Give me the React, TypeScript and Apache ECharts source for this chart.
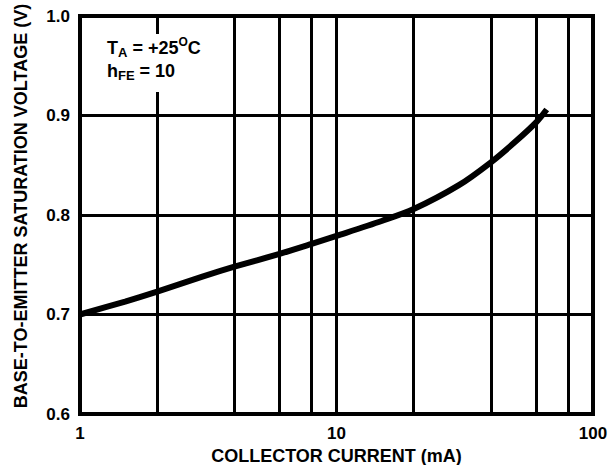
import React, { useEffect, useRef } from "react";
import * as echarts from "echarts";

const currents = [1, 1.5, 2, 3, 4, 6, 8, 10, 15, 20, 30, 40, 50, 60, 66];
const vbeSat = [0.7, 0.713, 0.723, 0.738, 0.748, 0.761, 0.771, 0.779, 0.794, 0.806, 0.83, 0.853, 0.874, 0.893, 0.906];
const minorGridX = [2, 4, 6, 8, 20, 40, 60, 80];
const xTitle = "COLLECTOR CURRENT (mA)";
const yTitle = "BASE-TO-EMITTER SATURATION VOLTAGE (V)";

const FONT = "'Liberation Sans', Arial, sans-serif";

export default function App() {
  const ref = useRef<HTMLDivElement>(null);
  useEffect(() => {
    if (!ref.current) return;
    const chart = echarts.init(ref.current, null, { renderer: "svg" });
    const data = currents.map((c, i) => [c, vbeSat[i]]);
    chart.setOption({
      animation: false,
      backgroundColor: "#ffffff",
      grid: {
        left: 80,
        right: 20,
        top: 16,
        bottom: 51,
        show: true,
        borderColor: "#000",
        borderWidth: 4,
        backgroundColor: "transparent",
        containLabel: false,
        outerBoundsMode: "none",
      },
      xAxis: {
        type: "log",
        logBase: 10,
        min: 1,
        max: 100,
        name: xTitle,
        nameLocation: "middle",
        nameGap: 28,
        nameTextStyle: { fontFamily: FONT, fontWeight: "bold", fontSize: 18, color: "#000" },
        axisLine: { show: false },
        axisTick: { show: false },
        axisLabel: { fontFamily: FONT, fontWeight: "bold", fontSize: 17, color: "#000", margin: 11 },
        splitLine: { show: true, lineStyle: { color: "#000", width: 3 } },
      },
      yAxis: {
        type: "value",
        min: 0.6,
        max: 1.0,
        interval: 0.1,
        axisLine: { show: false },
        axisTick: { show: false },
        axisLabel: {
          fontFamily: FONT,
          fontWeight: "bold",
          fontSize: 17,
          color: "#000",
          margin: 10,
          formatter: (v: number) => v.toFixed(1),
        },
        splitLine: { show: true, lineStyle: { color: "#000", width: 3 } },
      },
      series: [
        {
          type: "line",
          data,
          smooth: 0.3,
          symbol: "none",
          lineStyle: { color: "#000", width: 6, cap: "butt" },
          z: 5,
          markLine: {
            silent: true,
            symbol: "none",
            label: { show: false },
            lineStyle: { color: "#000", width: 3, type: "solid" },
            data: minorGridX.map((x) => ({ xAxis: x })),
            z: 1,
          },
        },
      ],
      graphic: [
        {
          type: "text",
          z: 100,
          x: 21,
          y: 206,
          rotation: Math.PI / 2,
          style: {
            text: yTitle,
            fontFamily: FONT,
            fontWeight: "bold",
            fontSize: 18,
            fill: "#000",
            align: "center",
            verticalAlign: "middle",
          },
        },
        {
          type: "rect",
          z: 100,
          shape: { x: 100, y: 34, width: 112, height: 58 },
          style: { fill: "#fff" },
        },
        {
          type: "text",
          z: 101,
          left: 107,
          top: 36,
          style: {
            text: "{m|T}{sub|A}{m| = +25}{sup|O}{m|C}\n{m|h}{sub|FE}{m| = 10}",
            rich: {
              m: { fontFamily: FONT, fontWeight: "bold", fontSize: 18, color: "#000", lineHeight: 23, verticalAlign: "middle" },
              sub: { fontFamily: FONT, fontWeight: "bold", fontSize: 13, color: "#000", lineHeight: 13, verticalAlign: "bottom" },
              sup: { fontFamily: FONT, fontWeight: "bold", fontSize: 12, color: "#000", lineHeight: 12, verticalAlign: "top" },
            },
          },
        },
      ],
    });
    return () => chart.dispose();
  }, []);
  return <div ref={ref} style={{ position: "fixed", left: 0, top: 0, width: 613, height: 465 }} />;
}
